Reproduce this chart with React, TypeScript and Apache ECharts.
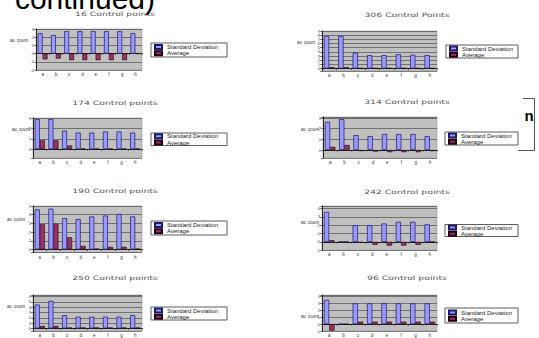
import React, { useEffect, useRef } from "react";
import * as echarts from "echarts";

// ---- data ----
const categories = ["a", "b", "c", "d", "e", "f", "g", "h"];
const chartTitles = [
  "16 Control points",
  "306 Control Points",
  "174 Control points",
  "314 Control points",
  "190 Control points",
  "242 Control points",
  "250 Control points",
  "96 Control points",
];
const seriesNames = ["Standard Deviation", "Average"];
const yAxisName = "av. count";

const stdDev16 = [2.5, 2.27, 2.75, 2.75, 2.75, 2.75, 2.75, 2.5];
const avg16 = [-0.7, -0.6, -0.8, -0.8, -0.8, -0.8, -0.8, 0];
const stdDev306 = [7.8, 7.8, 3.8, 3.2, 3.2, 3.4, 3.3, 3.2];
const avg306 = [0.3, 0.3, 0.1, 0.1, 0.1, 0.1, 0.1, 0.1];
const stdDev174 = [2.9, 2.9, 1.78, 1.6, 1.6, 1.7, 1.7, 1.6];
const avg174 = [0.85, 0.85, 0.35, 0.05, 0.05, 0.05, 0.05, 0.05];
const stdDev314 = [2.65, 2.9, 1.4, 1.3, 1.5, 1.5, 1.5, 1.3];
const avg314 = [0.3, 0.47, -0.1, -0.15, -0.2, -0.2, -0.2, -0.1];
const stdDev190 = [4.6, 4.7, 3.6, 3.5, 3.8, 3.9, 4.1, 3.8];
const avg190 = [2.9, 2.95, 1.4, 0.4, 0.1, 0.3, 0.3, 0.1];
const stdDev242 = [3.6, 0, 2.0, 2.0, 2.2, 2.4, 2.4, 2.1];
const avg242 = [0.2, 0, -0.1, -0.35, -0.45, -0.45, -0.35, 0];
const stdDev250 = [4.5, 5.2, 2.5, 2.2, 2.2, 2.2, 2.2, 2.5];
const avg250 = [0.45, 0.45, 0.15, 0.15, 0.15, 0.15, 0.15, 0.15];
const stdDev96 = [3.5, 0, 3.0, 3.0, 3.0, 3.0, 3.0, 3.0];
const avg96 = [-0.95, 0, 0.35, 0.35, 0.35, 0.35, 0.35, 0.35];

const stdDevSets = [stdDev16, stdDev306, stdDev174, stdDev314, stdDev190, stdDev242, stdDev250, stdDev96];
const avgSets = [avg16, avg306, avg174, avg314, avg190, avg242, avg250, avg96];

const yMins = [-2, -0.6, -0.85, -0.75, -0.35, -1, -0.5, -1];
const yMaxs = [3, 9, 3, 3.1, 5, 4.3, 6.3, 4.2];

// ---- layout (positions only) ----
const layout = [
  { left: 36, top: 29, width: 106, height: 41, box: [151, 43, 76, 14], title: [115, 14], yname: [28, 40] },
  { left: 322, top: 31, width: 115, height: 40, box: [446, 45, 72, 13], title: [407, 15], yname: [315, 42] },
  { left: 33, top: 118, width: 109, height: 40, box: [151, 133, 76, 12.5], title: [115, 103], yname: [30, 129] },
  { left: 323, top: 117, width: 114, height: 41, box: [445, 132, 73, 13], title: [407, 102], yname: [319, 129] },
  { left: 33, top: 206, width: 109, height: 46.5, box: [151, 221, 76, 14], title: [115, 191], yname: [25, 219] },
  { left: 322, top: 206, width: 115, height: 44.2, box: [445, 224.5, 73, 12], title: [407, 192], yname: [319, 222] },
  { left: 33, top: 295, width: 109, height: 38, box: [151, 307, 76, 13], title: [115, 278], yname: [25, 306] },
  { left: 322, top: 295, width: 115, height: 43.3, box: [445, 308, 73, 15], title: [407, 278], yname: [319, 316] },
];

const FONT = "'Liberation Sans', Arial, sans-serif";
const LEG_ROW = 5.8;
const LEG_GAP = 0.3;

export default function App() {
  const ref = useRef<HTMLDivElement>(null);

  useEffect(() => {
    if (!ref.current) return;
    const chart = echarts.init(ref.current, undefined, { renderer: "svg" });

    const grids: any[] = [];
    const xAxes: any[] = [];
    const yAxes: any[] = [];
    const series: any[] = [];
    const legends: any[] = [];
    const graphics: any[] = [];

    layout.forEach((l, i) => {
      grids.push({
        left: l.left,
        top: l.top,
        width: l.width,
        height: l.height,
        show: true,
        backgroundColor: "#c0c0c0",
        borderColor: "#8a8a8a",
        borderWidth: 0.5,
      });
      xAxes.push({
        type: "category",
        gridIndex: i,
        data: categories,
        axisLine: { onZero: true, lineStyle: { color: "#000", width: 0.7 } },
        axisTick: { show: true, length: 1.5, lineStyle: { color: "#000", width: 0.5 } },
        axisLabel: { fontSize: 4.5, color: "#333", margin: 2, fontFamily: FONT },
      });
      yAxes.push({
        type: "value",
        gridIndex: i,
        min: yMins[i],
        max: yMaxs[i],
        minInterval: 1,
        maxInterval: 1,
        axisLine: { show: true, lineStyle: { color: "#000", width: 0.8 } },
        axisTick: { show: true, length: 2, lineStyle: { color: "#000", width: 0.5 } },
        splitLine: { show: true, lineStyle: { color: "#3a3a3a", width: 0.6 } },
        axisLabel: {
          fontSize: 4,
          color: "#333",
          margin: 2,
          fontFamily: FONT,
          formatter: (v: number) => (Number.isInteger(v) ? String(v) : ""),
        },
      });
      series.push({
        type: "bar",
        name: seriesNames[0],
        xAxisIndex: i,
        yAxisIndex: i,
        data: stdDevSets[i],
        barGap: "0%",
        barCategoryGap: "26%",
        itemStyle: { color: "#9999ff", borderColor: "#1a1a66", borderWidth: 0.7 },
      });
      series.push({
        type: "bar",
        name: seriesNames[1],
        xAxisIndex: i,
        yAxisIndex: i,
        data: avgSets[i],
        barGap: "0%",
        barCategoryGap: "26%",
        itemStyle: { color: "#993366", borderColor: "#220011", borderWidth: 0.6 },
      });
      const [bx, by, bw, bh] = l.box;
      const legH = LEG_ROW * 2 + LEG_GAP;
      legends.push({
        left: bx + 3,
        top: by + (bh - legH) / 2,
        orient: "vertical",
        itemWidth: 7,
        itemHeight: 4,
        itemGap: LEG_GAP,
        padding: 0,
        icon: "rect",
        data: seriesNames,
        textStyle: { fontSize: 6, color: "#222", lineHeight: LEG_ROW, fontFamily: FONT },
      });
      graphics.push({
        type: "rect",
        shape: { x: bx, y: by, width: bw, height: bh },
        style: { fill: "#fff", stroke: "#333", lineWidth: 0.8 },
        z: 1,
      });
      graphics.push({
        type: "text",
        x: l.title[0],
        y: l.title[1],
        scaleX: 1.55,
        style: {
          text: chartTitles[i],
          fill: "#555",
          fontSize: 6,
          fontFamily: "'DejaVu Sans', sans-serif",
          align: "center",
          verticalAlign: "middle",
        },
      });
      graphics.push({
        type: "text",
        x: l.yname[0],
        y: l.yname[1],
        style: {
          text: yAxisName,
          fill: "#333",
          fontSize: 4.5,
          fontFamily: FONT,
          align: "right",
          verticalAlign: "middle",
        },
      });
    });

    graphics.push({
      type: "text",
      x: 155,
      y: -1.5,
      style: {
        text: "continued)",
        fill: "#000",
        fontSize: 30,
        fontFamily: FONT,
        align: "right",
        verticalAlign: "middle",
      },
    });
    graphics.push({
      type: "text",
      x: 524.5,
      y: 115,
      style: {
        text: "n",
        fill: "#000",
        fontSize: 15,
        fontWeight: "bold",
        fontFamily: FONT,
        align: "left",
        verticalAlign: "middle",
      },
    });
    graphics.push({
      type: "polyline",
      shape: { points: [[523, 98.5], [534.5, 98.5], [534.5, 150.5], [518, 150.5]] },
      style: { stroke: "#555", lineWidth: 1, fill: "none" },
    });

    chart.setOption({
      animation: false,
      textStyle: { fontFamily: FONT },
      grid: grids,
      xAxis: xAxes,
      yAxis: yAxes,
      series,
      legend: legends,
      graphic: graphics,
    });

    return () => chart.dispose();
  }, []);

  return (
    <div
      ref={ref}
      style={{ position: "fixed", left: 0, top: 0, width: 539, height: 338, background: "#fff" }}
    />
  );
}
